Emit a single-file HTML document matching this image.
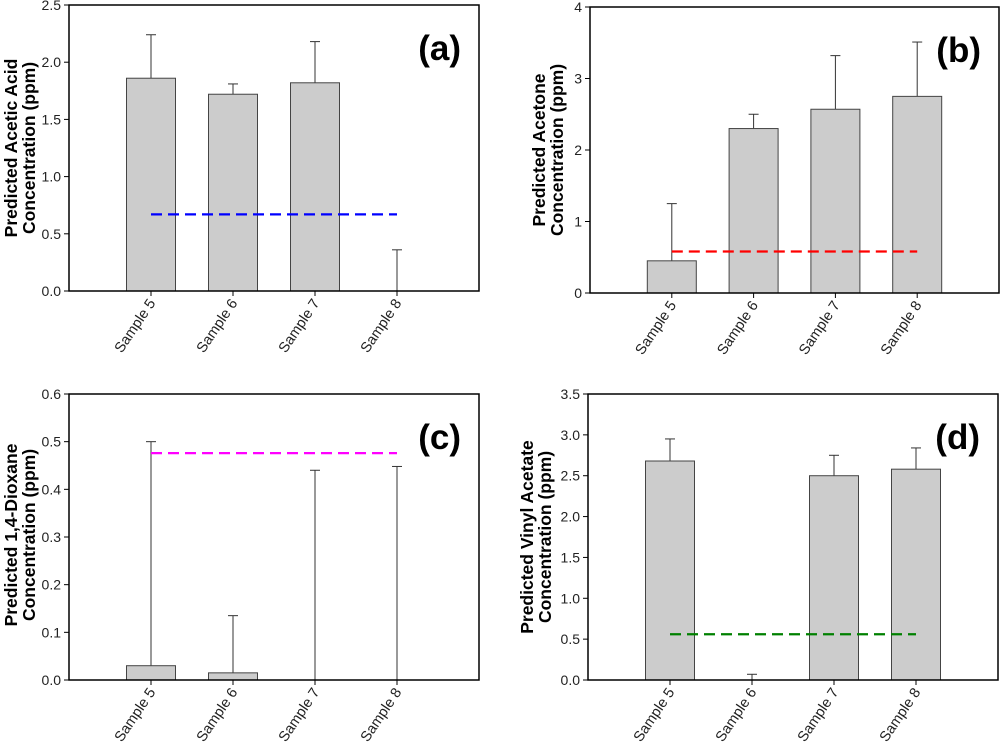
<!DOCTYPE html>
<html><head><meta charset="utf-8"><style>
body{margin:0;background:#fff}
svg{display:block;font-family:"Liberation Sans",Arial,sans-serif}
</style></head><body>
<svg id="c" width="1000" height="743" viewBox="0 0 1000 743"></svg>
<script>
const categories=["Sample 5","Sample 6","Sample 7","Sample 8"];
const valuesA=[1.86,1.72,1.82,0];
const errorsA=[2.24,1.81,2.18,0.36];
const refA=0.67;
const valuesB=[0.45,2.3,2.57,2.75];
const errorsB=[1.25,2.5,3.32,3.51];
const refB=0.58;
const valuesC=[0.03,0.015,0,0];
const errorsC=[0.5,0.135,0.44,0.448];
const refC=0.476;
const valuesD=[2.68,0,2.5,2.58];
const errorsD=[2.95,0.07,2.75,2.84];
const refD=0.56;
const ticksA=["0.0","0.5","1.0","1.5","2.0","2.5"];
const ticksB=["0","1","2","3","4"];
const ticksC=["0.0","0.1","0.2","0.3","0.4","0.5","0.6"];
const ticksD=["0.0","0.5","1.0","1.5","2.0","2.5","3.0","3.5"];

const svg=document.getElementById('c');
const NS="http://www.w3.org/2000/svg";
function mk(t,a,p){const e=document.createElementNS(NS,t);for(const k in a)e.setAttribute(k,a[k]);(p||svg).appendChild(e);return e;}

const panels=[
 {id:'a',L:69,T:5,R:479,B:291,max:2.5,ticks:ticksA,vals:valuesA,errs:errorsA,ref:refA,col:'#0000ff',t1:'Predicted Acetic Acid',t2:'Concentration (ppm)',tx:11,ty:148,lab:'(a)'},
 {id:'b',L:590,T:7,R:999,B:293,max:4,ticks:ticksB,vals:valuesB,errs:errorsB,ref:refB,col:'#ff0000',t1:'Predicted Acetone',t2:'Concentration (ppm)',tx:539,ty:150,lab:'(b)'},
 {id:'c',L:69,T:394,R:479,B:680,max:0.6,ticks:ticksC,vals:valuesC,errs:errorsC,ref:refC,col:'#ff00ff',t1:'Predicted 1,4-Dioxane',t2:'Concentration (ppm)',tx:11,ty:535,lab:'(c)'},
 {id:'d',L:588,T:394,R:998,B:680,max:3.5,ticks:ticksD,vals:valuesD,errs:errorsD,ref:refD,col:'#008000',t1:'Predicted Vinyl Acetate',t2:'Concentration (ppm)',tx:527,ty:537,lab:'(d)'}
];
panels.forEach(p=>{
 const g=mk('g',{});
 
 
 const y=v=>p.B-(v/p.max)*(p.B-p.T);
 const step=(p.R-p.L)/5;
 const x=i=>p.L+step*(i+1);
 const bw=49;
 p.vals.forEach((v,i)=>{
  const e=p.errs[i];
  const eb=mk('line',{x1:x(i),x2:x(i),y1:y(v),y2:y(e),stroke:'#333','stroke-width':1},g);
  
  
  const cap=mk('line',{x1:x(i)-5,x2:x(i)+5,y1:y(e),y2:y(e),stroke:'#333','stroke-width':1},g);
  
  
  if(v>0){
   const r=mk('rect',{x:x(i)-bw/2,y:y(v),width:bw,height:p.B-y(v),fill:'#cccccc',stroke:'#444','stroke-width':1},g);
   
   
  }
 });
 const rl=mk('line',{x1:x(0),x2:x(3),y1:y(p.ref),y2:y(p.ref),stroke:p.col,'stroke-width':2.2,'stroke-dasharray':'11,6'},g);
 
 
 const fr=mk('rect',{x:p.L,y:p.T,width:p.R-p.L,height:p.B-p.T,fill:'none',stroke:'#000','stroke-width':1.5},g);
 
 
 p.ticks.forEach((t,k)=>{
  const v=parseFloat(t);
  mk('line',{x1:p.L-5,x2:p.L,y1:y(v),y2:y(v),stroke:'#000','stroke-width':1},g);
  const tl=mk('text',{x:p.L-8,y:y(v)+5,'text-anchor':'end','font-size':14,fill:'#222'},g);
  tl.textContent=t;
  
  
 });
 categories.forEach((c,i)=>{
  mk('line',{x1:x(i),x2:x(i),y1:p.B,y2:p.B+5,stroke:'#000','stroke-width':1},g);
  const tl=mk('text',{x:x(i)+5,y:p.B+12,'text-anchor':'end','font-size':14.5,fill:'#222',transform:`rotate(-56 ${x(i)+5} ${p.B+12})`},g);
  tl.textContent=c;
  
  
 });
 const tt=mk('text',{'font-size':17.5,'font-weight':'bold','text-anchor':'middle',fill:'#000',transform:`translate(${p.tx},${p.ty}) rotate(-90)`},g);
 
 
 const s1=mk('tspan',{x:0,y:6},tt);s1.textContent=p.t1;
 const s2=mk('tspan',{x:0,y:24},tt);s2.textContent=p.t2;
 const pl=mk('text',{x:p.R-18,y:p.T+55,'text-anchor':'end','font-size':35,'font-weight':'bold',fill:'#000'},g);
 pl.textContent=p.lab;
 
 
});
</script>
</body></html>
